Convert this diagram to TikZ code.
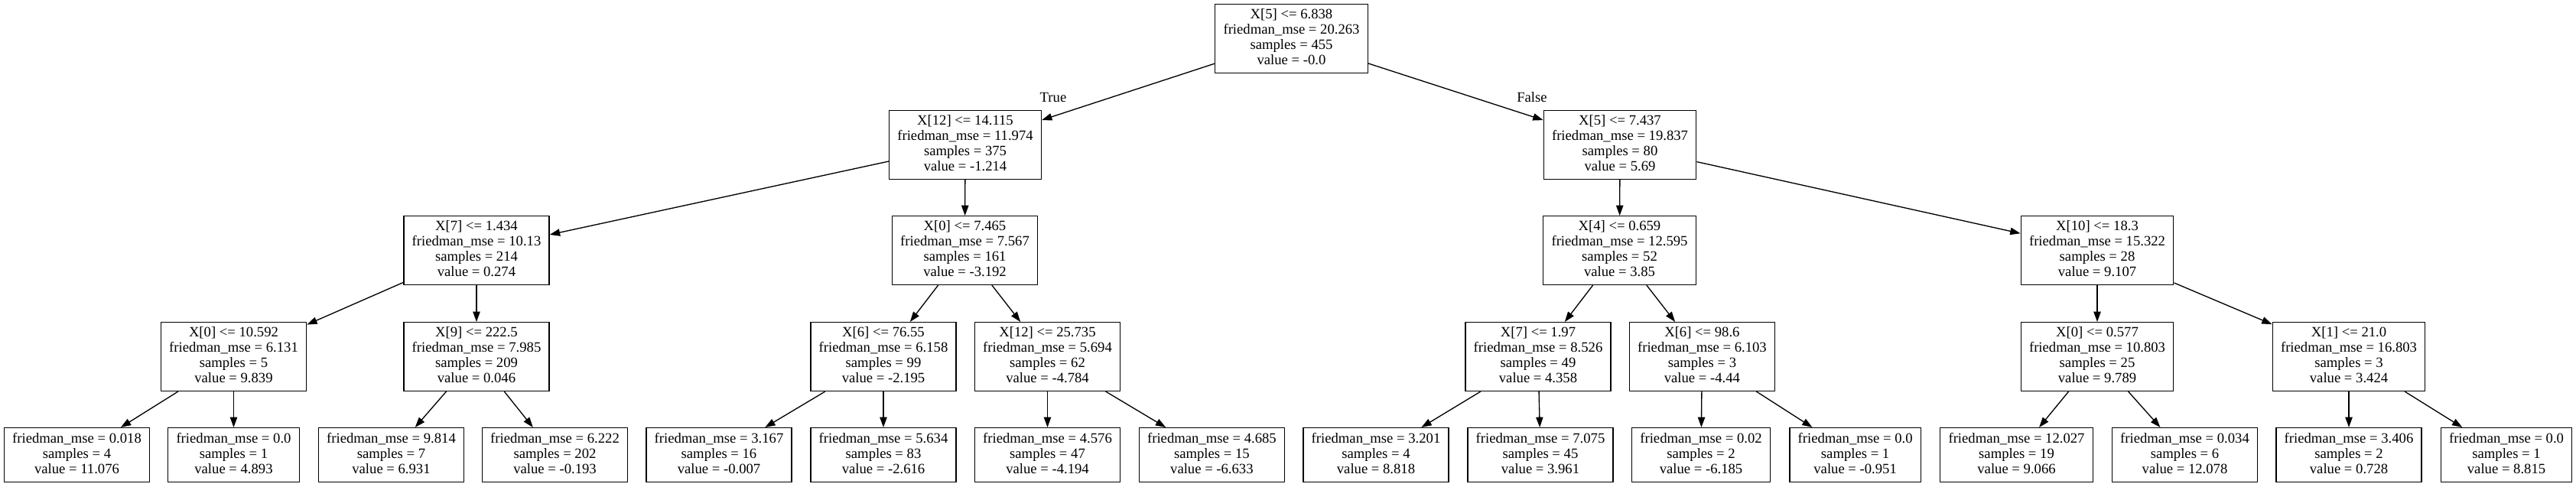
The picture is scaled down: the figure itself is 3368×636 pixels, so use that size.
\documentclass[tikz,border=0pt]{standalone}
\usepackage{fontspec}
\setmainfont{Liberation Serif}
\usepackage{tikz}
\usetikzlibrary{arrows.meta}
\newcommand{\rowstrut}{\rule[-3.5pt]{0pt}{15pt}}
\tikzset{
    split node/.style={draw,rectangle,line width=1pt,align=center,inner xsep=8.1pt,inner ysep=0pt,
        minimum height=67.25pt,execute at begin node=\rowstrut,execute at end node=\rowstrut},
    leaf node/.style={split node,minimum height=53pt},
    arr/.style={-{Triangle[length=10pt,width=7pt]},line width=1pt},
}
\tikzstyle{every node}=[font=\fontsize{14pt}{15pt}\selectfont]

\begin{document}
\begin{tikzpicture}[x=0.75pt,y=-0.75pt]
        \path[use as bounding box,fill=white] (0,0) rectangle (3368,636);
        % splits
        \node[split node] (root) at (1688.5,50.5) {X[5] <= 6.838\\friedman\_mse = 20.263\\samples = 455\\value = -0.0};
        \node[split node] (L) at (1262,189.5) {X[12] <= 14.115\\friedman\_mse = 11.974\\samples = 375\\value = -1.214};
        \node[split node] (R) at (2118,189.5) {X[5] <= 7.437\\friedman\_mse = 19.837\\samples = 80\\value = 5.69};
        \node[split node] (LL) at (623,327.5) {X[7] <= 1.434\\friedman\_mse = 10.13\\samples = 214\\value = 0.274};
        \node[split node] (LR) at (1261.5,327.5) {X[0] <= 7.465\\friedman\_mse = 7.567\\samples = 161\\value = -3.192};
        \node[split node] (RL) at (2117.5,327.5) {X[4] <= 0.659\\friedman\_mse = 12.595\\samples = 52\\value = 3.85};
        \node[split node] (RR) at (2742,327.5) {X[10] <= 18.3\\friedman\_mse = 15.322\\samples = 28\\value = 9.107};
        \node[split node] (LLL) at (305.5,466.5) {X[0] <= 10.592\\friedman\_mse = 6.131\\samples = 5\\value = 9.839};
        \node[split node] (LLR) at (623,466.5) {X[9] <= 222.5\\friedman\_mse = 7.985\\samples = 209\\value = 0.046};
        \node[split node] (LRL) at (1155,466.5) {X[6] <= 76.55\\friedman\_mse = 6.158\\samples = 99\\value = -2.195};
        \node[split node] (LRR) at (1369.5,466.5) {X[12] <= 25.735\\friedman\_mse = 5.694\\samples = 62\\value = -4.784};
        \node[split node] (RLL) at (2011,466.5) {X[7] <= 1.97\\friedman\_mse = 8.526\\samples = 49\\value = 4.358};
        \node[split node] (RLR) at (2225.4,466.5) {X[6] <= 98.6\\friedman\_mse = 6.103\\samples = 3\\value = -4.44};
        \node[split node] (RRL) at (2742,466.5) {X[0] <= 0.577\\friedman\_mse = 10.803\\samples = 25\\value = 9.789};
        \node[split node] (RRR) at (3071,466.5) {X[1] <= 21.0\\friedman\_mse = 16.803\\samples = 3\\value = 3.424};
        % leaves
        \node[leaf node] (LLLL) at (100.5,595) {friedman\_mse = 0.018\\samples = 4\\value = 11.076};
        \node[leaf node] (LLLR) at (305.5,595) {friedman\_mse = 0.0\\samples = 1\\value = 4.893};
        \node[leaf node] (LLRL) at (511.5,595) {friedman\_mse = 9.814\\samples = 7\\value = 6.931};
        \node[leaf node] (LLRR) at (725.5,595) {friedman\_mse = 6.222\\samples = 202\\value = -0.193};
        \node[leaf node] (LRLL) at (940,595) {friedman\_mse = 3.167\\samples = 16\\value = -0.007};
        \node[leaf node] (LRLR) at (1155,595) {friedman\_mse = 5.634\\samples = 83\\value = -2.616};
        \node[leaf node] (LRRL) at (1369.5,595) {friedman\_mse = 4.576\\samples = 47\\value = -4.194};
        \node[leaf node] (LRRR) at (1584.4,595) {friedman\_mse = 4.685\\samples = 15\\value = -6.633};
        \node[leaf node] (RLLL) at (1799,595) {friedman\_mse = 3.201\\samples = 4\\value = 8.818};
        \node[leaf node] (RLLR) at (2014,595) {friedman\_mse = 7.075\\samples = 45\\value = 3.961};
        \node[leaf node] (RLRL) at (2224,595) {friedman\_mse = 0.02\\samples = 2\\value = -6.185};
        \node[leaf node] (RLRR) at (2425.6,595) {friedman\_mse = 0.0\\samples = 1\\value = -0.951};
        \node[leaf node] (RRLL) at (2636.5,595) {friedman\_mse = 12.027\\samples = 19\\value = 9.066};
        \node[leaf node] (RRLR) at (2856.5,595) {friedman\_mse = 0.034\\samples = 6\\value = 12.078};
        \node[leaf node] (RRRL) at (3071,595) {friedman\_mse = 3.406\\samples = 2\\value = 0.728};
        \node[leaf node] (RRRR) at (3277,595) {friedman\_mse = 0.0\\samples = 1\\value = 8.815};
        % edges
        \draw[arr] (root) -- (L);
        \draw[arr] (root) -- (R);
        \node (true label) at (1377,127) {True};
        \node (false label) at (2003,127) {False};
        \draw[arr] (L) -- (LL);
        \draw[arr] (L) -- (LR);
        \draw[arr] (R) -- (RL);
        \draw[arr] (R) -- (RR);
        \draw[arr] (LL) -- (LLL);
        \draw[arr] (LL) -- (LLR);
        \draw[arr] (LR) -- (LRL);
        \draw[arr] (LR) -- (LRR);
        \draw[arr] (RL) -- (RLL);
        \draw[arr] (RL) -- (RLR);
        \draw[arr] (RR) -- (RRL);
        \draw[arr] (RR) -- (RRR);
        \draw[arr] (LLL) -- (LLLL);
        \draw[arr] (LLL) -- (LLLR);
        \draw[arr] (LLR) -- (LLRL);
        \draw[arr] (LLR) -- (LLRR);
        \draw[arr] (LRL) -- (LRLL);
        \draw[arr] (LRL) -- (LRLR);
        \draw[arr] (LRR) -- (LRRL);
        \draw[arr] (LRR) -- (LRRR);
        \draw[arr] (RLL) -- (RLLL);
        \draw[arr] (RLL) -- (RLLR);
        \draw[arr] (RLR) -- (RLRL);
        \draw[arr] (RLR) -- (RLRR);
        \draw[arr] (RRL) -- (RRLL);
        \draw[arr] (RRL) -- (RRLR);
        \draw[arr] (RRR) -- (RRRL);
        \draw[arr] (RRR) -- (RRRR);
\end{tikzpicture}
\end{document}
